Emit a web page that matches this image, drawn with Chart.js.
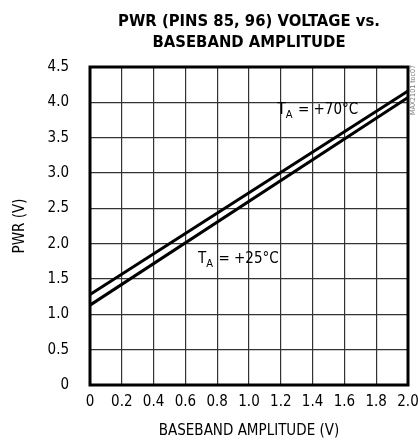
<!DOCTYPE html>
<html>
<head>
<meta charset="utf-8">
<script src="https://cdn.jsdelivr.net/npm/chart.js@4"></script>
<style>
  html, body { margin: 0; padding: 0; background: #fff; }
  #wrap { width: 418px; height: 446px; position: relative; }
</style>
</head>
<body>
<div id="wrap"><canvas id="pwrChart"></canvas></div>
<script>
const FONT = '"Liberation Sans Narrow", "DejaVu Sans Condensed", Arial, sans-serif';

// baseband amplitude (V) at the two ends of each line
const amplitude = [0, 2.0];
// PWR voltage (V)
const pwr70 = [1.28, 4.16];
const pwr25 = [1.13, 4.07];

const xTicks = [0, 0.2, 0.4, 0.6, 0.8, 1.0, 1.2, 1.4, 1.6, 1.8, 2.0];
const yTicks = [0, 0.5, 1.0, 1.5, 2.0, 2.5, 3.0, 3.5, 4.0, 4.5];

const titleLines = ['PWR (PINS 85, 96) VOLTAGE vs.', 'BASEBAND AMPLITUDE'];
// curve labels: [x, y, temperature text]
const curveLabels = [
    [1.18, 3.83, ' = +70°C'],
    [0.68, 1.73, ' = +25°C']
];

const fmt = v => (v === 0 ? '0' : Number(v).toFixed(1));

const decorations = {
    id: 'decorations',
    afterDraw(chart) {
        const { ctx, chartArea, scales } = chart;
        const { left, right, top, bottom } = chartArea;
        ctx.save();

        // frame
        ctx.strokeStyle = '#000';
        ctx.lineWidth = 3;
        ctx.strokeRect(left, top, right - left, bottom - top);

        // title centred over plot
        ctx.fillStyle = '#000';
        ctx.font = 'bold 16.5px ' + FONT;
        ctx.textAlign = 'center';
        ctx.textBaseline = 'alphabetic';
        const cx = (left + right) / 2;
        ctx.fillText(titleLines[0], cx, 26);
        ctx.fillText(titleLines[1], cx, 47);

        // T_A labels
        curveLabels.forEach(([x, y, txt]) => {
            let px = scales.x.getPixelForValue(x);
            const py = scales.y.getPixelForValue(y);
            ctx.textAlign = 'left';
            ctx.font = '15px ' + FONT;
            ctx.fillText('T', px, py);
            px += ctx.measureText('T').width;
            ctx.font = '11px ' + FONT;
            ctx.fillText('A', px, py + 4);
            px += ctx.measureText('A').width + 1;
            ctx.font = '15px ' + FONT;
            ctx.fillText(txt, px, py);
        });

        // side code
        ctx.translate(413, 90);
        ctx.rotate(-Math.PI / 2);
        ctx.font = '7px ' + FONT;
        ctx.fillStyle = '#777';
        ctx.textAlign = 'center';
        ctx.textBaseline = 'middle';
        ctx.fillText('MAX2101 toc07', 0, 0);
        ctx.restore();
    }
};

const lineStyle = {
    borderColor: '#000',
    borderWidth: 3,
    pointRadius: 0,
    showLine: true,
    fill: false,
    tension: 0
};

new Chart(document.getElementById('pwrChart').getContext('2d'), {
    type: 'scatter',
    data: {
        datasets: [
            { label: 'TA = +70°C', data: amplitude.map((x, i) => ({ x, y: pwr70[i] })), ...lineStyle },
            { label: 'TA = +25°C', data: amplitude.map((x, i) => ({ x, y: pwr25[i] })), ...lineStyle }
        ]
    },
    options: {
        responsive: true,
        maintainAspectRatio: false,
        animation: false,
        layout: { padding: { top: 67, right: 0, left: 0, bottom: 0 } },
        plugins: {
            legend: { display: false },
            tooltip: { enabled: false }
        },
        scales: {
            x: {
                type: 'linear',
                min: 0,
                max: 2.0,
                afterBuildTicks: s => { s.ticks = xTicks.map(v => ({ value: v })); },
                afterFit: s => { s.height = 61; s.paddingRight = 10; s.paddingLeft = 0; },
                grid: { color: '#333', lineWidth: 1.2, drawTicks: false },
                border: { display: false },
                ticks: {
                    callback: v => fmt(v),
                    color: '#000',
                    font: { family: FONT, size: 15 },
                    padding: 8,
                    maxRotation: 0,
                    autoSkip: false
                },
                title: {
                    display: true,
                    text: 'BASEBAND AMPLITUDE (V)',
                    color: '#000',
                    font: { family: FONT, size: 15 },
                    padding: { top: 4, bottom: 6 }
                }
            },
            y: {
                min: 0,
                max: 4.5,
                afterBuildTicks: s => { s.ticks = yTicks.map(v => ({ value: v })); },
                afterFit: s => { s.width = 90; },
                grid: { color: '#333', lineWidth: 1.2, drawTicks: false },
                border: { display: false },
                ticks: {
                    callback: v => fmt(v),
                    color: '#000',
                    font: { family: FONT, size: 15 },
                    padding: 21,
                    autoSkip: false
                },
                title: {
                    display: true,
                    text: 'PWR (V)',
                    color: '#000',
                    font: { family: FONT, size: 15 },
                    padding: { top: 11, bottom: 0 }
                }
            }
        }
    },
    plugins: [decorations]
});
</script>
</body>
</html>
